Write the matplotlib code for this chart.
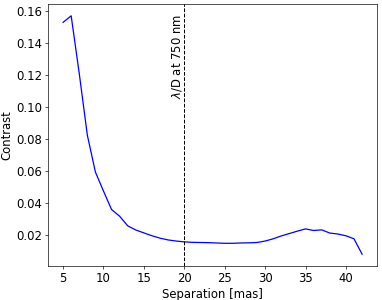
import numpy as np
import matplotlib
matplotlib.use("Agg")
import matplotlib.pyplot as plt

# separation in mas and measured contrast
separation = np.arange(5, 43)
contrast = [0.1529, 0.1570, 0.1210, 0.0825, 0.0594, 0.0475, 0.0360, 0.0318,
            0.0258, 0.0232, 0.0214, 0.0196, 0.0181, 0.0170, 0.0163, 0.0158,
            0.0155, 0.0154, 0.0153, 0.0151, 0.0149, 0.0149, 0.0151, 0.0152,
            0.0154, 0.0163, 0.0177, 0.0195, 0.0210, 0.0225, 0.0239, 0.0229,
            0.0233, 0.0213, 0.0207, 0.0196, 0.0177, 0.0081]
lam_d = 20

plt.rcParams['font.size'] = 14
fig, ax = plt.subplots(figsize=(382 / 60, 5.0), dpi=60)
ax.plot(separation, contrast, color='blue')
ax.axvline(lam_d, color='black', linestyle='--', linewidth=1.2)
ax.text(lam_d, 0.158, r'$\lambda$/D at 750 nm', rotation=90, ha='right', va='top')
ax.set_xlabel('Separation [mas]')
ax.set_ylabel('Contrast')
ax.set_xticks([5, 10, 15, 20, 25, 30, 35, 40])
ax.set_yticks([0.02, 0.04, 0.06, 0.08, 0.10, 0.12, 0.14, 0.16])
fig.subplots_adjust(left=0.126, right=0.987, bottom=0.113, top=0.987)
fig.savefig('out.png')
